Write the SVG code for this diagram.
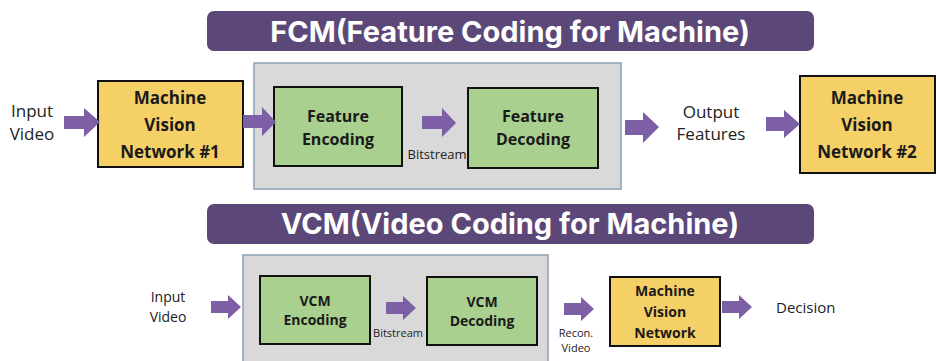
<svg xmlns="http://www.w3.org/2000/svg" width="936" height="361" viewBox="0 0 936 361">
<style>
.banner{fill:#5c4878}
.title{font-family:Inter,"Open Sans",sans-serif;font-weight:700;fill:#ffffff;text-anchor:middle}
.group{fill:#d9d9d9;stroke:#8aa0b4;stroke-width:1.5}
.mvn{fill:#f5d067;stroke:#111;stroke-width:2}
.codec{fill:#a9d08e;stroke:#111;stroke-width:2}
.nt{font-family:"Open Sans","Noto Sans",sans-serif;font-weight:700;fill:#1a1a1a;text-anchor:middle}
.lbl{font-family:"Open Sans","Noto Sans",sans-serif;fill:#222;text-anchor:middle}
.arr{fill:#7d5fa6}
</style>
<rect width="936" height="361" fill="#ffffff"/>
<g id="fcm-banner">
<rect class="banner" x="207" y="11" width="607" height="40" rx="7"/>
<text class="title" x="510" y="42" font-size="29">FCM(Feature Coding for Machine)</text>
</g>
<g id="fcm-codec-group">
<rect class="group" x="254" y="63" width="367" height="126"/>
</g>
<g id="fcm-input-label">
<text class="lbl" x="32" y="117" font-size="17">Input</text>
<text class="lbl" x="32" y="140" font-size="17">Video</text>
</g>
<g id="mvn1">
<rect class="mvn" x="98" y="81" width="145" height="86"/>
<text class="nt" x="170" y="104" font-size="17">Machine</text>
<text class="nt" x="170" y="131" font-size="17">Vision</text>
<text class="nt" x="170" y="158" font-size="17">Network #1</text>
</g>
<g id="feature-encoding">
<rect class="codec" x="274" y="87" width="128" height="79"/>
<text class="nt" x="338" y="122" font-size="16">Feature</text>
<text class="nt" x="338" y="145" font-size="16">Encoding</text>
</g>
<g id="fcm-bitstream-label">
<text class="lbl" x="437" y="159" font-size="13">Bitstream</text>
</g>
<g id="feature-decoding">
<rect class="codec" x="468" y="88" width="130" height="80"/>
<text class="nt" x="533" y="122" font-size="16">Feature</text>
<text class="nt" x="533" y="145" font-size="16">Decoding</text>
</g>
<g id="output-features-label">
<text class="lbl" x="711" y="118" font-size="17">Output</text>
<text class="lbl" x="711" y="140" font-size="17">Features</text>
</g>
<g id="mvn2">
<rect class="mvn" x="800" y="76" width="135" height="97"/>
<text class="nt" x="867" y="104" font-size="17">Machine</text>
<text class="nt" x="867" y="131" font-size="17">Vision</text>
<text class="nt" x="867" y="158" font-size="17">Network #2</text>
</g>
<g id="vcm-banner">
<rect class="banner" x="207" y="204" width="607" height="40" rx="7"/>
<text class="title" x="510" y="234" font-size="29">VCM(Video Coding for Machine)</text>
</g>
<g id="vcm-codec-group">
<rect class="group" x="243" y="255" width="305" height="115"/>
</g>
<g id="vcm-input-label">
<text class="lbl" x="168" y="302" font-size="14">Input</text>
<text class="lbl" x="168" y="322" font-size="14">Video</text>
</g>
<g id="vcm-encoding">
<rect class="codec" x="260" y="276" width="110" height="68"/>
<text class="nt" x="315" y="306" font-size="14">VCM</text>
<text class="nt" x="315" y="325" font-size="14">Encoding</text>
</g>
<g id="vcm-bitstream-label">
<text class="lbl" x="398" y="337" font-size="11">Bitstream</text>
</g>
<g id="vcm-decoding">
<rect class="codec" x="427" y="277" width="110" height="68"/>
<text class="nt" x="482" y="307" font-size="14">VCM</text>
<text class="nt" x="482" y="326" font-size="14">Decoding</text>
</g>
<g id="recon-video-label">
<text class="lbl" x="576" y="337" font-size="11">Recon.</text>
<text class="lbl" x="576" y="352" font-size="11">Video</text>
</g>
<g id="mvn-vcm">
<rect class="mvn" x="610" y="277" width="110" height="69"/>
<text class="nt" x="665" y="296" font-size="14">Machine</text>
<text class="nt" x="665" y="317" font-size="14">Vision</text>
<text class="nt" x="665" y="338" font-size="14">Network</text>
</g>
<g id="decision-label">
<text class="lbl" x="776" y="313" font-size="15" style="text-anchor:start">Decision</text>
</g>
<g id="connectors">
<polygon class="arr" points="64,116 84,116 84,108 100,122 84,137 84,129 64,129"/>
<polygon class="arr" points="243,115 262,115 262,107 276,122 262,136 262,128 243,128"/>
<polygon class="arr" points="422,116 442,116 442,108 456,123 442,137 442,129 422,129"/>
<polygon class="arr" points="625,120 643,120 643,112 659,127 643,143 643,135 625,135"/>
<polygon class="arr" points="766,117 784,117 784,110 800,124 784,138 784,131 766,131"/>
<polygon class="arr" points="211,301 228,301 228,295 241,307 228,319 228,313 211,313"/>
<polygon class="arr" points="386,302 403,302 403,296 416,308 403,320 403,314 386,314"/>
<polygon class="arr" points="564,303 581,303 581,297 594,309 581,321 581,315 564,315"/>
<polygon class="arr" points="722,301 739,301 739,295 752,307 739,319 739,313 722,313"/>
</g>
</svg>
